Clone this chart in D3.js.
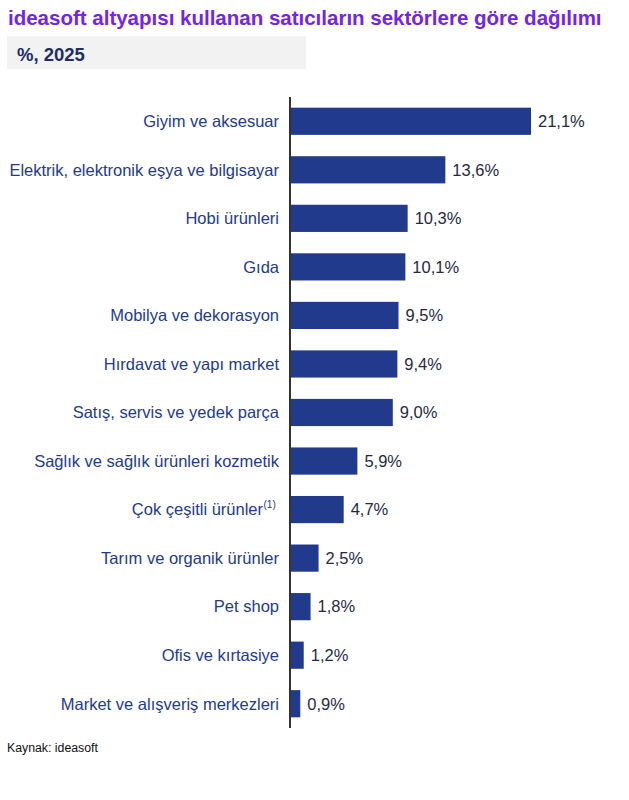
<!DOCTYPE html>
<html>
<head>
<meta charset="utf-8">
<script src="https://cdn.jsdelivr.net/npm/d3@7"></script>
<style>
  body { margin: 0; background: #fff; }
  text { font-family: "Liberation Sans", Arial, sans-serif; }
</style>
</head>
<body>
<svg id="chart"></svg>
<script>
var categories = [
    "Giyim ve aksesuar",
    "Elektrik, elektronik eşya ve bilgisayar",
    "Hobi ürünleri",
    "Gıda",
    "Mobilya ve dekorasyon",
    "Hırdavat ve yapı market",
    "Satış, servis ve yedek parça",
    "Sağlık ve sağlık ürünleri kozmetik",
    "Çok çeşitli ürünler",
    "Tarım ve organik ürünler",
    "Pet shop",
    "Ofis ve kırtasiye",
    "Market ve alışveriş merkezleri"
];
var values = [21.1, 13.6, 10.3, 10.1, 9.5, 9.4, 9.0, 5.9, 4.7, 2.5, 1.8, 1.2, 0.9];
var footnotes = ["", "", "", "", "", "", "", "", "(1)", "", "", "", ""];

var width = 629, height = 800;
var svg = d3.select("#chart").attr("width", width).attr("height", height);

// title + subtitle box
svg.append("text")
    .attr("x", 8).attr("y", 25)
    .attr("fill", "#7424e8")
    .attr("font-size", 20.5)
    .attr("font-weight", "bold")
    .text("ideasoft altyapısı kullanan satıcıların sektörlere göre dağılımı");

svg.append("rect")
    .attr("x", 7).attr("y", 36)
    .attr("width", 299).attr("height", 33)
    .attr("fill", "#f2f2f2");

svg.append("text")
    .attr("x", 17).attr("y", 61)
    .attr("fill", "#1f2d6b")
    .attr("font-size", 18.5)
    .attr("font-weight", "bold")
    .text("%, 2025");

// scales
var x0 = 290;
var x = d3.scaleLinear().domain([0, 21.1]).range([x0, 531]);
var y = d3.scaleBand().domain(categories).range([97, 728]).paddingInner(0.44).paddingOuter(0.22);

var rows = svg.selectAll("g.row").data(categories).enter().append("g")
    .attr("class", "row");

rows.append("rect")
    .attr("x", x0)
    .attr("y", function (d) { return y(d); })
    .attr("width", function (d, i) { return x(values[i]) - x0; })
    .attr("height", y.bandwidth())
    .attr("fill", "#213a8c");

// category labels
rows.append("text")
    .attr("x", function (d, i) { return footnotes[i] ? 263 : 279; })
    .attr("y", function (d) { return y(d) + y.bandwidth() / 2; })
    .attr("dy", "0.35em")
    .attr("text-anchor", "end")
    .attr("font-size", 16.5)
    .attr("fill", "#223a94")
    .text(function (d) { return d; });

rows.filter(function (d, i) { return footnotes[i]; }).append("text")
    .attr("x", 263.5)
    .attr("y", function (d) { return y(d) + y.bandwidth() / 2 - 2; })
    .attr("font-size", 10)
    .attr("fill", "#223a94")
    .text(function (d) { return footnotes[categories.indexOf(d)]; });

// value labels
rows.append("text")
    .attr("x", function (d, i) { return x(values[i]) + 7; })
    .attr("y", function (d) { return y(d) + y.bandwidth() / 2; })
    .attr("dy", "0.35em")
    .attr("font-size", 16.5)
    .attr("fill", "#1f2a44")
    .text(function (d, i) { return values[i].toFixed(1).replace(".", ",") + "%"; });

// axis line
svg.append("line")
    .attr("x1", x0).attr("x2", x0)
    .attr("y1", 97).attr("y2", 728)
    .attr("stroke", "#333")
    .attr("stroke-width", 2);

svg.append("text")
    .attr("x", 7).attr("y", 752)
    .attr("font-size", 12.3)
    .attr("fill", "#111")
    .text("Kaynak: ideasoft");
</script>
</body>
</html>
